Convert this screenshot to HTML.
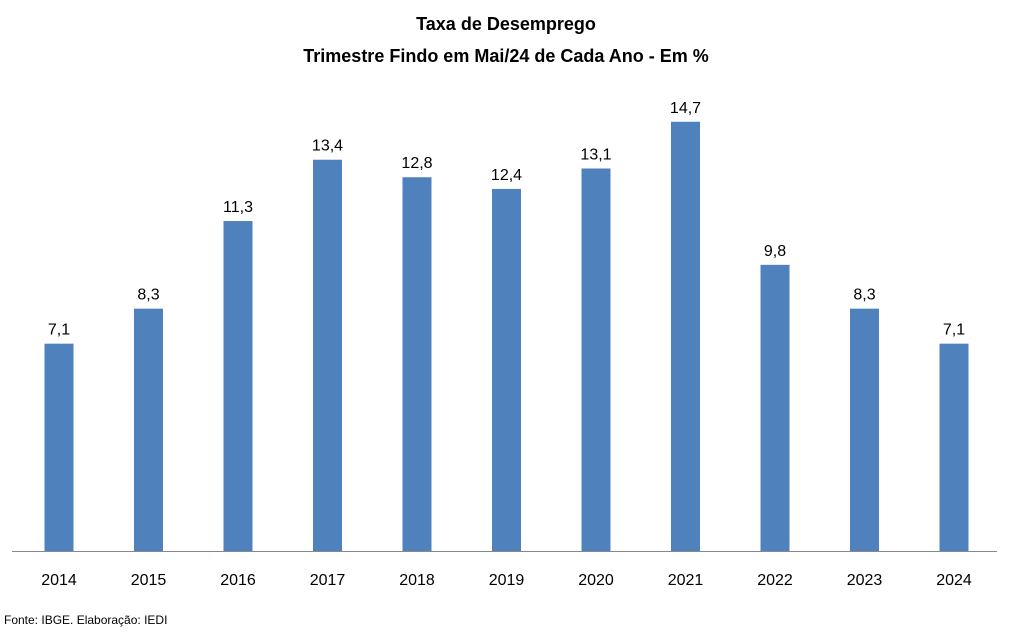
<!DOCTYPE html>
<html><head><meta charset="utf-8"><style>
body{margin:0;background:#fff;width:1013px;height:632px;overflow:hidden;font-family:"Liberation Sans",sans-serif}
</style></head><body>
<svg width="1013" height="632" style="font-family:'Liberation Sans',sans-serif">
<text x="506" y="30" text-anchor="middle" font-size="18" font-weight="bold" fill="#000">Taxa de Desemprego</text>
<text x="506" y="62" text-anchor="middle" font-size="18" font-weight="bold" fill="#000">Trimestre Findo em Mai/24 de Cada Ano - Em %</text>
<g id="bars"></g>
<line x1="12" y1="551.5" x2="997" y2="551.5" stroke="#888" stroke-width="1"/>
<text x="4" y="624" font-size="12" fill="#000">Fonte: IBGE. Elaboração: IEDI</text>
</svg>
<script>
const categories=["2014","2015","2016","2017","2018","2019","2020","2021","2022","2023","2024"];
const values=[7.1,8.3,11.3,13.4,12.8,12.4,13.1,14.7,9.8,8.3,7.1];
const labels=["7,1","8,3","11,3","13,4","12,8","12,4","13,1","14,7","9,8","8,3","7,1"];
const ns="http://www.w3.org/2000/svg";
const g=document.getElementById('bars');
function xPos(i){return 59+i*89.5;}
function yPos(v){return 551-v*29.2;}
categories.forEach((c,i)=>{
  const r=document.createElementNS(ns,'rect');
  r.setAttribute('x',xPos(i)-14.5);r.setAttribute('y',yPos(values[i]));
  r.setAttribute('width',29);r.setAttribute('height',551-yPos(values[i]));
  r.setAttribute('fill','#4f81bd');
  
  
  g.appendChild(r);
  const t=document.createElementNS(ns,'text');
  t.setAttribute('x',xPos(i));t.setAttribute('y',yPos(values[i])-9);
  t.setAttribute('text-anchor','middle');t.setAttribute('font-size','16');
  t.textContent=labels[i];
  
  
  g.appendChild(t);
  const x=document.createElementNS(ns,'text');
  x.setAttribute('x',xPos(i));x.setAttribute('y',585);
  x.setAttribute('text-anchor','middle');x.setAttribute('font-size','16');
  x.textContent=c;
  
  
  g.appendChild(x);
});
</script>
</body></html>
